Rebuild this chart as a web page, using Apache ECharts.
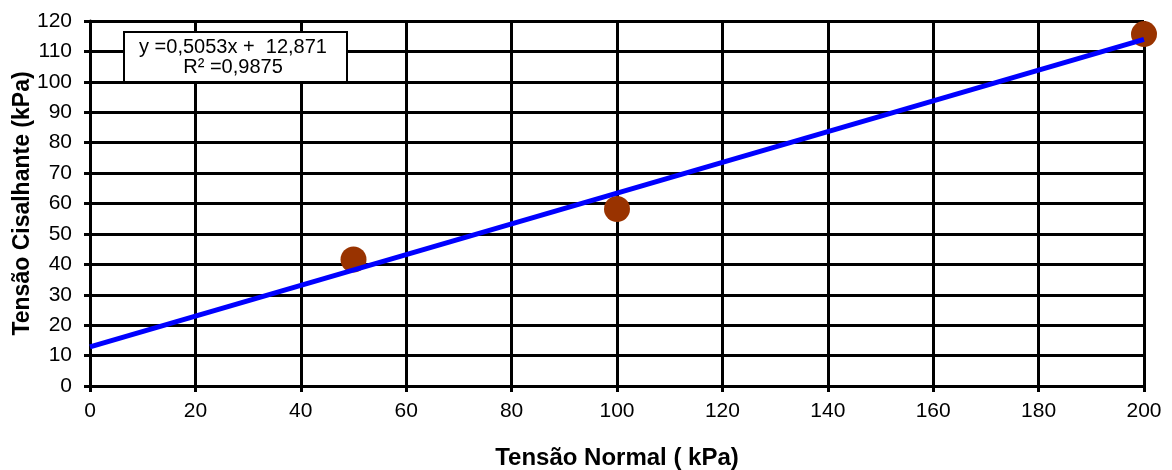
<!DOCTYPE html>
<html>
<head>
<meta charset="utf-8">
<script src="https://cdn.jsdelivr.net/npm/echarts@6/dist/echarts.min.js"></script>
<style>
  html, body { margin: 0; padding: 0; background: #fff; }
  #chart { width: 1172px; height: 470px; }
</style>
</head>
<body>
<div id="chart"></div>
<script>
// Ensaio de cisalhamento: tensão normal x tensão cisalhante (kPa)
const tensaoNormal = [50, 100, 200];
const tensaoCisalhante = [41.6, 58.2, 115.7];

// Reta de ajuste linear (coeficientes da equação exibida)
const slope = 0.5053;
const intercept = 12.871;
const r2 = 0.9875;
const trendRange = [0, 200];

const xTicks = { min: 0, max: 200, interval: 20 };
const yTicks = { min: 0, max: 120, interval: 10 };

const fmt = (v, d) => v.toFixed(d).replace('.', ',');

const points = tensaoNormal.map((x, i) => [x, tensaoCisalhante[i]]);
const trend = trendRange.map(x => [x, slope * x + intercept]);

const FONT = '"Liberation Sans", Arial, sans-serif';

const chart = echarts.init(document.getElementById('chart'), null, { renderer: 'canvas' });

const axisCommon = {
  axisLine: { show: true, onZero: false, lineStyle: { color: '#000', width: 3 } },
  axisTick: { show: true, length: 6, lineStyle: { color: '#000', width: 3 } },
  splitLine: { show: true, lineStyle: { color: '#000', width: 3 } },
  axisLabel: { color: '#000', fontFamily: FONT, fontSize: 21 },
  nameTextStyle: { color: '#000', fontFamily: FONT, fontSize: 23, fontWeight: 'bold' },
  nameMoveOverlap: false
};

chart.setOption({
  animation: false,
  backgroundColor: '#fff',
  grid: { left: 90, right: 28, top: 21, bottom: 84, containLabel: false, outerBoundsMode: 'none' },
  xAxis: Object.assign({}, axisCommon, {
    type: 'value',
    min: xTicks.min, max: xTicks.max, interval: xTicks.interval,
    name: 'Tensão Normal ( kPa)',
    nameLocation: 'middle',
    nameGap: 60,
    nameTextStyle: Object.assign({}, axisCommon.nameTextStyle, { fontSize: 24 }),
    axisLabel: Object.assign({}, axisCommon.axisLabel, { margin: 15 })
  }),
  yAxis: Object.assign({}, axisCommon, {
    type: 'value',
    min: yTicks.min, max: yTicks.max, interval: yTicks.interval,
    name: 'Tensão Cisalhante (kPa)',
    nameLocation: 'middle',
    nameGap: 56,
    axisLabel: Object.assign({}, axisCommon.axisLabel, { margin: 18 })
  }),
  series: [
    {
      name: 'Ensaios',
      type: 'scatter',
      data: points,
      symbol: 'circle',
      symbolSize: 26,
      itemStyle: { color: '#993300', opacity: 1 },
      z: 3
    },
    {
      name: 'Linear',
      type: 'line',
      data: trend,
      showSymbol: false,
      symbol: 'none',
      lineStyle: { color: '#0000ff', width: 5 },
      z: 4
    }
  ],
  graphic: [
    {
      type: 'rect',
      left: 123,
      top: 31,
      z: 100,
      shape: { x: 0, y: 0, width: 223, height: 50 },
      style: { fill: '#fff', stroke: '#000', lineWidth: 2 }
    },
    {
      type: 'text',
      x: 233,
      y: 57,
      z: 101,
      style: {
        text: 'y =' + fmt(slope, 4) + 'x +  ' + fmt(intercept, 3) + '\nR² =' + fmt(r2, 4),
        fill: '#000',
        font: '20px ' + FONT,
        align: 'center',
        verticalAlign: 'middle',
        lineHeight: 20
      }
    }
  ]
});
</script>
</body>
</html>
